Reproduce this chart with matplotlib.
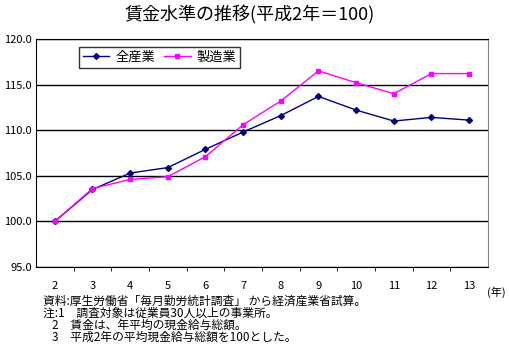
import matplotlib.pyplot as plt
from matplotlib.ticker import MultipleLocator, FixedLocator

plt.rcParams['font.family'] = ['Noto Sans CJK JP', 'DejaVu Sans']

# 平成2年～13年
years = ['2', '3', '4', '5', '6', '7', '8', '9', '10', '11', '12', '13']
all_industries = [100.0, 103.5, 105.3, 105.9, 107.9, 109.8, 111.6, 113.7, 112.2, 111.0, 111.4, 111.1]
manufacturing = [100.0, 103.6, 104.6, 104.9, 107.1, 110.6, 113.2, 116.5, 115.2, 114.0, 116.2, 116.2]

fig = plt.figure(figsize=(5.09, 3.57), dpi=100)
ax = fig.add_axes([0.0707, 0.252, 0.888, 0.639])

x = list(range(len(years)))
ax.plot(x, all_industries, color='#000080', marker='D', markersize=3, linewidth=1, label='全産業')
ax.plot(x, manufacturing, color='#ff00ff', marker='s', markersize=3, linewidth=1, label='製造業')

ax.set_xlim(-0.5, len(years) - 0.5)
ax.set_ylim(95, 120)
ax.yaxis.set_major_locator(MultipleLocator(5))
ax.set_yticklabels([f'{v:.1f}' for v in ax.get_yticks()])
ax.grid(axis='y', color='black', linewidth=1)
ax.set_axisbelow(True)

ax.set_xticks(x)
ax.set_xticklabels(years)
ax.xaxis.set_minor_locator(FixedLocator([i + 0.5 for i in range(len(years) - 1)]))
ax.tick_params(axis='x', which='major', length=0, pad=10, labelsize=8)
ax.tick_params(axis='x', which='minor', length=3, direction='out', color='black')
ax.tick_params(axis='y', length=0, pad=3, labelsize=8)

ax.spines['left'].set_color('black')
ax.spines['bottom'].set_color('black')
ax.spines['right'].set_color('gray')
ax.spines['top'].set_color('black')

leg = ax.legend(loc='upper left', bbox_to_anchor=(0.095, 0.965), ncol=2, fontsize=9.5,
                frameon=True, fancybox=False, edgecolor='black', handlelength=2,
                handletextpad=0.45, columnspacing=0.7, borderpad=0.3,
                borderaxespad=0)
leg.get_frame().set_linewidth(1)

fig.text(0.49, 0.957, '賃金水準の推移(平成2年＝100)', ha='center', va='center', fontsize=13)
fig.text(0.957, 0.182, '(年)', ha='left', va='center', fontsize=8)

notes = [
    ('資料:厚生労働省「毎月勤労統計調査」 から経済産業省試算。', 0.085),
    ('注:1　調査対象は従業員30人以上の事業所。', 0.085),
    ('2　賃金は、年平均の現金給与総額。', 0.102),
    ('3　平成2年の平均現金給与総額を100とした。', 0.102),
]
ys = [0.156, 0.122, 0.088, 0.054]
for (t, xpos), yp in zip(notes, ys):
    fig.text(xpos, yp, t, ha='left', va='center', fontsize=8.5)

plt.savefig('out.png', dpi=100)
